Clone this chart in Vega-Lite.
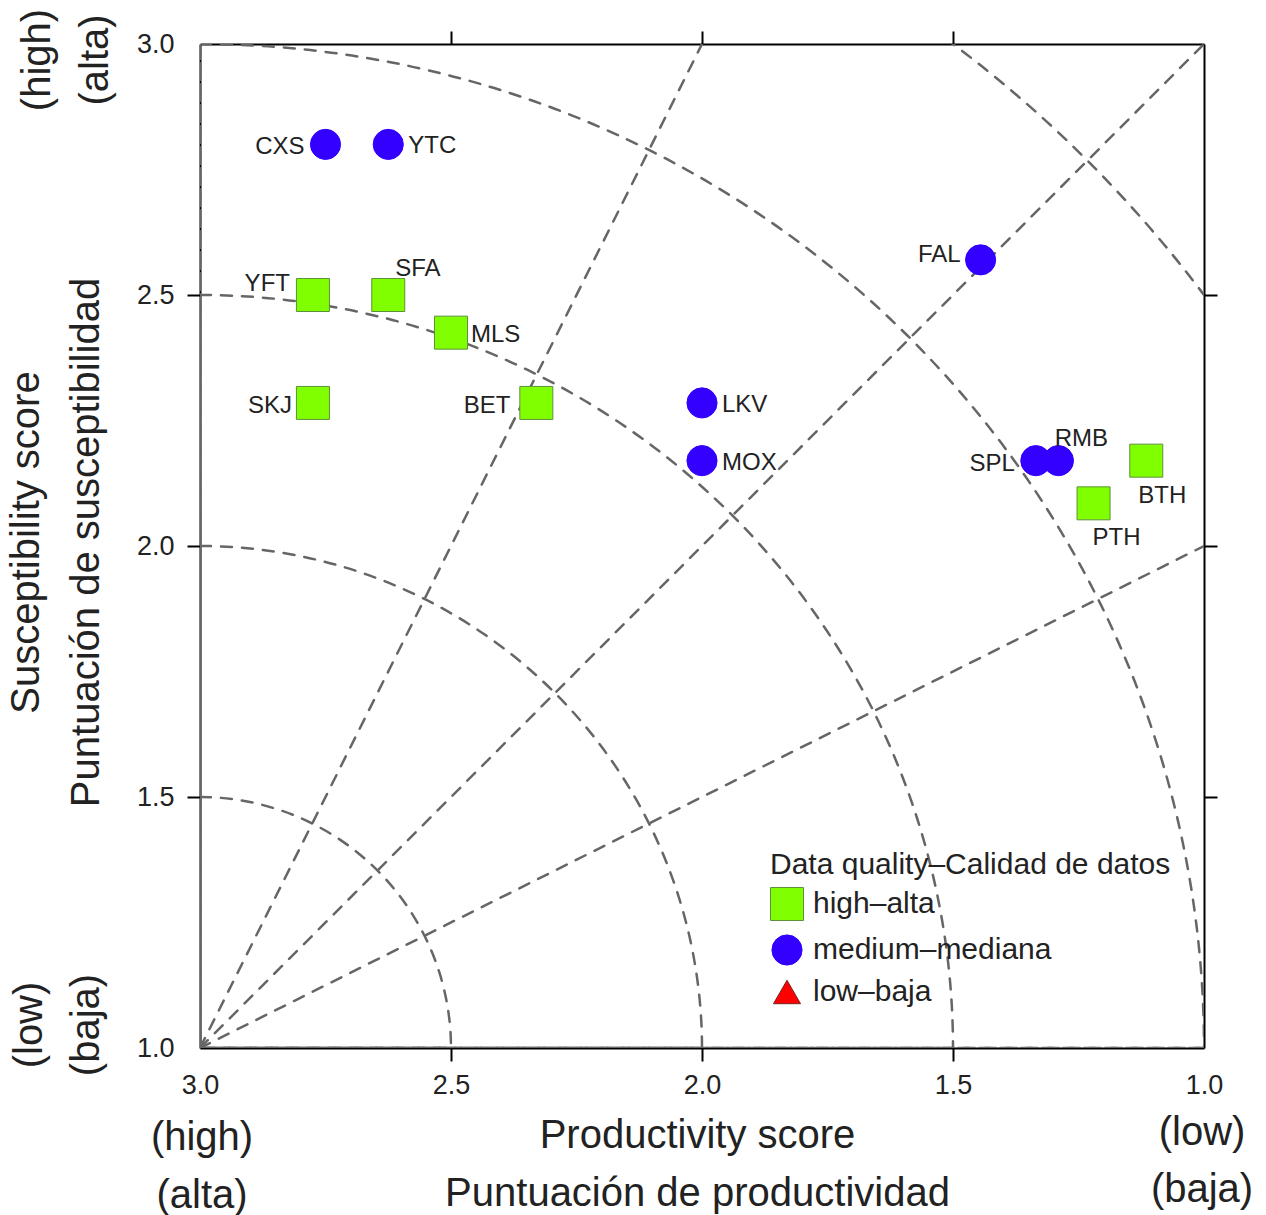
{
  "$schema": "https://vega.github.io/schema/vega-lite/v6.json",
  "width": 1004,
  "height": 1004,
  "autosize": {"type": "none"},
  "padding": {"left": 200, "top": 44, "right": 62, "bottom": 167},
  "background": "white",
  "config": {
    "font": "Liberation Sans",
    "view": {"stroke": null},
    "axis": {
      "zindex": 1,
      "grid": false,
      "domainColor": "#000000",
      "domainWidth": 2,
      "tickColor": "#000000",
      "tickWidth": 2,
      "tickSize": 13,
      "labelFont": "Liberation Sans",
      "labelFontSize": 27,
      "labelColor": "#222222",
      "labelFlush": false,
      "titleFont": "Liberation Sans",
      "titleFontSize": 40,
      "titleFontWeight": "normal",
      "titleColor": "#222222"
    },
    "legend": {
      "titleFont": "Liberation Sans",
      "titleFontSize": 30,
      "titleFontWeight": "normal",
      "titleColor": "#222222",
      "labelFont": "Liberation Sans",
      "labelFontSize": 30,
      "labelColor": "#222222",
      "labelOffset": 9,
      "rowPadding": 9,
      "titlePadding": 7,
      "symbolStrokeWidth": 1,
      "padding": 0,
      "titleLimit": 700,
      "labelLimit": 500
    }
  },
  "datasets": {
    "species": [
      {"species": "CXS", "productivity": 2.75, "susceptibility": 2.80, "quality": "medium–mediana"},
      {"species": "YTC", "productivity": 2.625, "susceptibility": 2.80, "quality": "medium–mediana"},
      {"species": "FAL", "productivity": 1.445, "susceptibility": 2.57, "quality": "medium–mediana"},
      {"species": "YFT", "productivity": 2.775, "susceptibility": 2.50, "quality": "high–alta"},
      {"species": "SFA", "productivity": 2.625, "susceptibility": 2.50, "quality": "high–alta"},
      {"species": "MLS", "productivity": 2.50, "susceptibility": 2.425, "quality": "high–alta"},
      {"species": "SKJ", "productivity": 2.775, "susceptibility": 2.285, "quality": "high–alta"},
      {"species": "BET", "productivity": 2.33, "susceptibility": 2.285, "quality": "high–alta"},
      {"species": "LKV", "productivity": 2.00, "susceptibility": 2.285, "quality": "medium–mediana"},
      {"species": "MOX", "productivity": 2.00, "susceptibility": 2.17, "quality": "medium–mediana"},
      {"species": "SPL", "productivity": 1.335, "susceptibility": 2.17, "quality": "medium–mediana"},
      {"species": "RMB", "productivity": 1.29, "susceptibility": 2.17, "quality": "medium–mediana"},
      {"species": "BTH", "productivity": 1.115, "susceptibility": 2.17, "quality": "high–alta"},
      {"species": "PTH", "productivity": 1.22, "susceptibility": 2.085, "quality": "high–alta"}
    ],
    "arcs": [{"r": 0.5}, {"r": 1.0}, {"r": 1.5}, {"r": 2.0}, {"r": 2.5}],
    "rays": [
      {"x0": 3, "y0": 1, "x1": 2, "y1": 3},
      {"x0": 3, "y0": 1, "x1": 1, "y1": 3},
      {"x0": 3, "y0": 1, "x1": 1, "y1": 2}
    ],
    "one": [{"n": 1}]
  },
  "data": {"name": "species"},
  "layer": [
    {
      "data": {"name": "arcs"},
      "mark": {"type": "arc", "theta": 0, "theta2": 1.5707963, "fillOpacity": 0, "stroke": "#666666", "strokeWidth": 2.5, "strokeDash": [11, 10], "strokeCap": "round", "clip": true},
      "encoding": {
        "x": {"datum": 3, "type": "quantitative", "axis": null},
        "y": {"datum": 1, "type": "quantitative", "axis": null},
        "radius": {"field": "r", "type": "quantitative", "stack": false, "scale": {"type": "linear", "domain": [0, 2], "range": [0, 1004], "zero": true}}
      }
    },
    {
      "data": {"name": "rays"},
      "mark": {"type": "rule", "stroke": "#666666", "strokeWidth": 2.5, "strokeDash": [11, 10], "strokeCap": "round", "clip": true},
      "encoding": {
        "x": {"field": "x0", "type": "quantitative", "axis": {"orient": "top", "values": [2.5, 2, 1.5], "labels": false, "title": null}},
        "y": {"field": "y0", "type": "quantitative", "axis": {"orient": "right", "values": [2.5, 2, 1.5], "labels": false, "title": null}},
        "x2": {"field": "x1"},
        "y2": {"field": "y1"}
      }
    },
    {
      "mark": {"type": "point", "filled": true, "opacity": 1, "strokeWidth": 1},
      "encoding": {
        "x": {
          "field": "productivity", "type": "quantitative",
          "scale": {"domain": [1, 3], "reverse": true, "nice": false, "zero": false},
          "axis": {
            "orient": "bottom", "values": [3, 2.5, 2, 1.5, 1], "format": ".1f", "labelPadding": 11,
            "tickOpacity": {"condition": {"test": "datum.value === 3 || datum.value === 1", "value": 0}, "value": 1},
            "title": ["Productivity score", "Puntuación de productividad"],
            "titleLineHeight": 58, "titleY": 67, "titleX": 497
          }
        },
        "y": {
          "field": "susceptibility", "type": "quantitative",
          "scale": {"domain": [1, 3], "nice": false, "zero": false},
          "axis": {
            "orient": "left", "values": [3, 2.5, 2, 1.5, 1], "format": ".1f", "labelPadding": 13,
            "tickOpacity": {"condition": {"test": "datum.value === 3 || datum.value === 1", "value": 0}, "value": 1},
            "title": ["Susceptibility score", "Puntuación de susceptibilidad"],
            "titleLineHeight": 60, "titleX": -154, "titleY": 498
          }
        },
        "fill": {
          "field": "quality", "type": "nominal", "title": "Data quality–Calidad de datos",
          "scale": {"domain": ["high–alta", "medium–mediana", "low–baja"], "range": ["#7FFF00", "#3300FF", "#FF0000"]},
          "legend": {"orient": "none", "legendX": 570, "legendY": 806}
        },
        "stroke": {
          "field": "quality", "type": "nominal", "title": "Data quality–Calidad de datos",
          "scale": {"domain": ["high–alta", "medium–mediana", "low–baja"], "range": ["#5E8F3A", "#3300FF", "#7A2020"]},
          "legend": {"orient": "none", "legendX": 570, "legendY": 806}
        },
        "shape": {
          "field": "quality", "type": "nominal", "title": "Data quality–Calidad de datos",
          "scale": {"domain": ["high–alta", "medium–mediana", "low–baja"], "range": ["square", "circle", "triangle-up"]},
          "legend": {"orient": "none", "legendX": 570, "legendY": 806}
        },
        "size": {
          "field": "quality", "type": "ordinal", "title": "Data quality–Calidad de datos",
          "scale": {"domain": ["high–alta", "medium–mediana", "low–baja"], "range": [1089, 729, 650]},
          "legend": {"orient": "none", "legendX": 570, "legendY": 806}
        }
      }
    },
    {
      "transform": [{"filter": {"field": "species", "oneOf": ["YTC", "MLS", "LKV", "MOX"]}}],
      "mark": {"type": "text", "align": "left", "baseline": "middle", "dx": 20, "dy": 2, "fontSize": 24, "color": "#222222"},
      "encoding": {
        "x": {"field": "productivity", "type": "quantitative", "axis": null},
        "y": {"field": "susceptibility", "type": "quantitative", "axis": null},
        "text": {"field": "species"}
      }
    },
    {
      "transform": [{"filter": {"field": "species", "oneOf": ["CXS", "SKJ", "SPL"]}}],
      "mark": {"type": "text", "align": "right", "baseline": "middle", "dx": -21, "dy": 3, "fontSize": 24, "color": "#222222"},
      "encoding": {
        "x": {"field": "productivity", "type": "quantitative", "axis": null},
        "y": {"field": "susceptibility", "type": "quantitative", "axis": null},
        "text": {"field": "species"}
      }
    },
    {
      "transform": [{"filter": {"field": "species", "oneOf": ["BET"]}}],
      "mark": {"type": "text", "align": "right", "baseline": "middle", "dx": -26, "dy": 3, "fontSize": 24, "color": "#222222"},
      "encoding": {
        "x": {"field": "productivity", "type": "quantitative", "axis": null},
        "y": {"field": "susceptibility", "type": "quantitative", "axis": null},
        "text": {"field": "species"}
      }
    },
    {
      "transform": [{"filter": {"field": "species", "oneOf": ["FAL"]}}],
      "mark": {"type": "text", "align": "right", "baseline": "middle", "dx": -20, "dy": -5, "fontSize": 24, "color": "#222222"},
      "encoding": {
        "x": {"field": "productivity", "type": "quantitative", "axis": null},
        "y": {"field": "susceptibility", "type": "quantitative", "axis": null},
        "text": {"field": "species"}
      }
    },
    {
      "transform": [{"filter": {"field": "species", "oneOf": ["YFT"]}}],
      "mark": {"type": "text", "align": "right", "baseline": "middle", "dx": -23, "dy": -11, "fontSize": 24, "color": "#222222"},
      "encoding": {
        "x": {"field": "productivity", "type": "quantitative", "axis": null},
        "y": {"field": "susceptibility", "type": "quantitative", "axis": null},
        "text": {"field": "species"}
      }
    },
    {
      "transform": [{"filter": {"field": "species", "oneOf": ["SFA"]}}],
      "mark": {"type": "text", "align": "left", "baseline": "middle", "dx": 7, "dy": -26, "fontSize": 24, "color": "#222222"},
      "encoding": {
        "x": {"field": "productivity", "type": "quantitative", "axis": null},
        "y": {"field": "susceptibility", "type": "quantitative", "axis": null},
        "text": {"field": "species"}
      }
    },
    {
      "transform": [{"filter": {"field": "species", "oneOf": ["RMB"]}}],
      "mark": {"type": "text", "align": "center", "baseline": "middle", "dx": 23, "dy": -22, "fontSize": 24, "color": "#222222"},
      "encoding": {
        "x": {"field": "productivity", "type": "quantitative", "axis": null},
        "y": {"field": "susceptibility", "type": "quantitative", "axis": null},
        "text": {"field": "species"}
      }
    },
    {
      "transform": [{"filter": {"field": "species", "oneOf": ["BTH"]}}],
      "mark": {"type": "text", "align": "center", "baseline": "middle", "dx": 16, "dy": 35, "fontSize": 24, "color": "#222222"},
      "encoding": {
        "x": {"field": "productivity", "type": "quantitative", "axis": null},
        "y": {"field": "susceptibility", "type": "quantitative", "axis": null},
        "text": {"field": "species"}
      }
    },
    {
      "transform": [{"filter": {"field": "species", "oneOf": ["PTH"]}}],
      "mark": {"type": "text", "align": "center", "baseline": "middle", "dx": 23, "dy": 35, "fontSize": 24, "color": "#222222"},
      "encoding": {
        "x": {"field": "productivity", "type": "quantitative", "axis": null},
        "y": {"field": "susceptibility", "type": "quantitative", "axis": null},
        "text": {"field": "species"}
      }
    },
    {
      "data": {"name": "one"},
      "mark": {"type": "text", "text": ["(high)", "(alta)"], "align": "center", "baseline": "alphabetic", "fontSize": 40, "lineHeight": 58, "dx": 2, "dy": 102, "color": "#222222"},
      "encoding": {
        "x": {"datum": 3, "type": "quantitative", "axis": null},
        "y": {"datum": 1, "type": "quantitative", "axis": null}
      }
    },
    {
      "data": {"name": "one"},
      "mark": {"type": "text", "text": ["(low)", "(baja)"], "align": "center", "baseline": "alphabetic", "fontSize": 40, "lineHeight": 57, "dx": -2, "dy": 97, "color": "#222222"},
      "encoding": {
        "x": {"datum": 1, "type": "quantitative", "axis": null},
        "y": {"datum": 1, "type": "quantitative", "axis": null}
      }
    },
    {
      "data": {"name": "one"},
      "mark": {"type": "text", "text": ["(high)", "(alta)"], "angle": 270, "align": "center", "baseline": "alphabetic", "fontSize": 40, "lineHeight": 58, "dx": -16, "dy": -150, "color": "#222222"},
      "encoding": {
        "x": {"datum": 3, "type": "quantitative", "axis": null},
        "y": {"datum": 3, "type": "quantitative", "axis": null}
      }
    },
    {
      "data": {"name": "one"},
      "mark": {"type": "text", "text": ["(low)", "(baja)"], "angle": 270, "align": "center", "baseline": "alphabetic", "fontSize": 40, "lineHeight": 57, "dx": 23, "dy": -158, "color": "#222222"},
      "encoding": {
        "x": {"datum": 3, "type": "quantitative", "axis": null},
        "y": {"datum": 1, "type": "quantitative", "axis": null}
      }
    }
  ],
  "resolve": {"axis": {"x": "independent", "y": "independent"}}
}
